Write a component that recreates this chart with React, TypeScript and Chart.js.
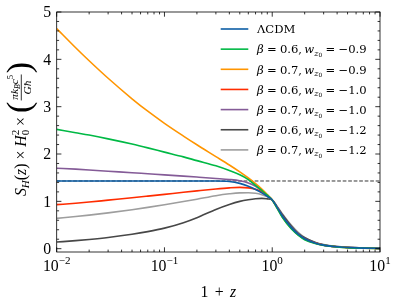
import React, { useEffect, useRef } from "react";
import Chart from "chart.js/auto";

// 1+z sample positions
const onePlusZ = [0.01, 0.015, 0.02, 0.03, 0.05, 0.07, 0.1, 0.15, 0.2, 0.3, 0.4, 0.5, 0.6, 0.7, 0.8, 0.9, 1.0, 1.1, 1.25, 1.5, 1.75, 2, 2.5, 3, 4, 5, 7, 10];

// S_H(z) * H0^2 * (pi kB c^5 / G hbar)
const lcdm = [1.43, 1.43, 1.43, 1.43, 1.43, 1.43, 1.43, 1.43, 1.43, 1.43, 1.42, 1.38, 1.32, 1.25, 1.18, 1.105, 1.03, 0.89, 0.68, 0.45, 0.30, 0.21, 0.12, 0.075, 0.04, 0.025, 0.012, 0.006];
const b06w09 = [2.52, 2.45, 2.40, 2.32, 2.21, 2.13, 2.04, 1.94, 1.86, 1.75, 1.65, 1.56, 1.46, 1.34, 1.23, 1.13, 1.03, 0.87, 0.65, 0.42, 0.28, 0.19, 0.11, 0.07, 0.037, 0.022, 0.011, 0.005];
const b07w09 = [4.65, 4.245, 3.97, 3.60, 3.167, 2.904, 2.648, 2.379, 2.195, 1.945, 1.767, 1.621, 1.493, 1.374, 1.261, 1.145, 1.03, 0.88, 0.66, 0.43, 0.29, 0.20, 0.115, 0.072, 0.038, 0.023, 0.011, 0.005];
const b06w10 = [0.93, 0.96, 0.985, 1.025, 1.075, 1.11, 1.148, 1.192, 1.222, 1.262, 1.285, 1.295, 1.285, 1.255, 1.205, 1.125, 1.03, 0.88, 0.67, 0.44, 0.29, 0.205, 0.118, 0.074, 0.039, 0.024, 0.012, 0.006];
const b07w10 = [1.70, 1.68, 1.663, 1.637, 1.605, 1.583, 1.56, 1.533, 1.513, 1.484, 1.462, 1.435, 1.39, 1.32, 1.225, 1.13, 1.03, 0.89, 0.68, 0.45, 0.30, 0.21, 0.12, 0.075, 0.04, 0.025, 0.012, 0.006];
const b06w12 = [0.14, 0.17, 0.195, 0.237, 0.304, 0.36, 0.434, 0.55, 0.655, 0.83, 0.935, 1.0, 1.035, 1.055, 1.062, 1.052, 1.03, 0.90, 0.71, 0.48, 0.32, 0.23, 0.13, 0.082, 0.043, 0.027, 0.013, 0.007];
const b07w12 = [0.64, 0.679, 0.709, 0.757, 0.824, 0.872, 0.928, 0.995, 1.045, 1.12, 1.16, 1.18, 1.182, 1.17, 1.14, 1.095, 1.03, 0.91, 0.73, 0.50, 0.34, 0.24, 0.135, 0.087, 0.046, 0.028, 0.014, 0.008];

const seriesValues = [lcdm, b06w09, b07w09, b06w10, b07w10, b06w12, b07w12];
const seriesColors = ["#0C5DA5", "#00B945", "#FF9500", "#FF2C00", "#845B97", "#474747", "#9e9e9e"];
const betaLabels = ["0.6", "0.7", "0.6", "0.7", "0.6", "0.7"];
const w0Labels = ["−0.9", "−0.9", "−1.0", "−1.0", "−1.2", "−1.2"];
const dashedLevel = 1.43;
const xTickExponents = [-2, -1, 0, 1];
const yTickValues = [0, 1, 2, 3, 4, 5];

const SERIF = '"Liberation Serif", "DejaVu Serif", "Times New Roman", serif';
const MATHSERIF = '"DejaVu Serif", "Liberation Serif", serif';

type Seg = { t?: string; it?: boolean; s?: number; dy?: number; g?: number; stack?: Seg[]; frac?: { num: Seg[]; den: Seg[] } };

let currentFamily = SERIF;

function fontOf(sg: Seg, base: number) {
  return `${sg.it ? "italic " : ""}${(base * (sg.s ?? 1)).toFixed(2)}px ${currentFamily}`;
}
function segW(ctx: CanvasRenderingContext2D, sg: Seg, base: number): number {
  if (sg.g !== undefined) return sg.g * base * (sg.s ?? 1);
  if (sg.stack) return Math.max(...sg.stack.map((c) => segW(ctx, c, base)));
  if (sg.frac) return Math.max(rowW(ctx, sg.frac.num, base), rowW(ctx, sg.frac.den, base)) + base * 0.25;
  ctx.font = fontOf(sg, base);
  return ctx.measureText(sg.t ?? "").width;
}
function rowW(ctx: CanvasRenderingContext2D, segs: Seg[], base: number): number {
  return segs.reduce((a, s) => a + segW(ctx, s, base), 0);
}
function drawSeg(ctx: CanvasRenderingContext2D, sg: Seg, x: number, y: number, base: number, w: number) {
  if (sg.g !== undefined) return;
  if (sg.stack) {
    for (const c of sg.stack) drawSeg(ctx, c, x, y, base, segW(ctx, c, base));
    return;
  }
  if (sg.frac) {
    const barY = y - 0.27 * base;
    ctx.fillRect(x + 0.08 * base, barY - 0.4, w - 0.16 * base, 0.8);
    const nw = rowW(ctx, sg.frac.num, base);
    const dw = rowW(ctx, sg.frac.den, base);
    drawRow(ctx, sg.frac.num, x + (w - nw) / 2, barY - 0.2 * base, base);
    drawRow(ctx, sg.frac.den, x + (w - dw) / 2, barY + 0.62 * base, base);
    return;
  }
  ctx.font = fontOf(sg, base);
  ctx.fillText(sg.t ?? "", x, y + (sg.dy ?? 0) * base);
}
function drawRow(ctx: CanvasRenderingContext2D, segs: Seg[], x: number, y: number, base: number) {
  let cx = x;
  for (const sg of segs) {
    const w = segW(ctx, sg, base);
    drawSeg(ctx, sg, cx, y, base, w);
    cx += w;
  }
  return cx;
}
function drawRowCentered(ctx: CanvasRenderingContext2D, segs: Seg[], cx: number, y: number, base: number) {
  const w = rowW(ctx, segs, base);
  drawRow(ctx, segs, cx - w / 2, y, base);
}

const yLabelSegs: Seg[] = [
  { t: "S", it: true },
  { t: "H", it: true, s: 0.7, dy: 0.22 },
  { t: "(" },
  { t: "z", it: true },
  { t: ")" },
  { t: " × " },
  { t: "H", it: true },
  { stack: [{ t: "0", s: 0.7, dy: 0.22 }, { t: "2", s: 0.7, dy: -0.42 }] },
  { t: " × " },
  { t: "(", s: 2.15, dy: 0.26 },
  {
    frac: {
      num: [
        { t: "π", it: true, s: 0.72 },
        { t: "k", it: true, s: 0.72 },
        { t: "B", it: true, s: 0.5, dy: 0.12 },
        { t: "c", it: true, s: 0.72 },
        { t: "5", s: 0.5, dy: -0.3 },
      ],
      den: [
        { t: "G", it: true, s: 0.72 },
        { t: "ħ", it: true, s: 0.72 },
      ],
    },
  },
  { t: ")", s: 2.15, dy: 0.26 },
];

const axesPlugin = {
  id: "sciAxes",
  afterDraw(chart: any) {
    const { ctx, chartArea: a, scales } = chart;
    const xs = scales.x;
    const ys = scales.y;
    ctx.save();
    ctx.strokeStyle = "#000";
    ctx.fillStyle = "#000";
    ctx.lineWidth = 0.8;
    ctx.strokeRect(a.left, a.top, a.right - a.left, a.bottom - a.top);
    const tick = (x1: number, y1: number, x2: number, y2: number) => {
      ctx.beginPath();
      ctx.moveTo(x1, y1);
      ctx.lineTo(x2, y2);
      ctx.stroke();
    };
    const MAJ = 4.7;
    const MIN = 2.4;
    for (const e of xTickExponents) {
      const px = xs.getPixelForValue(Math.pow(10, e));
      tick(px, a.bottom, px, a.bottom - MAJ);
      tick(px, a.top, px, a.top + MAJ);
      if (e < xTickExponents[xTickExponents.length - 1]) {
        for (let m = 2; m <= 9; m++) {
          const mx = xs.getPixelForValue(m * Math.pow(10, e));
          tick(mx, a.bottom, mx, a.bottom - MIN);
          tick(mx, a.top, mx, a.top + MIN);
        }
      }
    }
    for (const v of yTickValues) {
      const py = ys.getPixelForValue(v);
      tick(a.left, py, a.left + MAJ, py);
      tick(a.right, py, a.right - MAJ, py);
      if (v < 5) {
        for (let k = 1; k <= 4; k++) {
          const my = ys.getPixelForValue(v + k * 0.2);
          tick(a.left, my, a.left + MIN, my);
          tick(a.right, my, a.right - MIN, my);
        }
      }
    }
    const base = 15.8;
    ctx.textBaseline = "alphabetic";
    ctx.textAlign = "left";
    currentFamily = SERIF;
    for (const v of yTickValues) {
      const py = ys.getPixelForValue(v);
      ctx.font = `${base}px ${SERIF}`;
      const w = ctx.measureText(String(v)).width;
      ctx.fillText(String(v), a.left - 5.5 - w, py + 5.3);
    }
    for (const e of xTickExponents) {
      const px = xs.getPixelForValue(Math.pow(10, e));
      const segs: Seg[] = [{ t: "10" }, { t: e < 0 ? "−" + Math.abs(e) : String(e), s: 0.7, dy: -0.42 }];
      drawRowCentered(ctx, segs, px, 270.5, base);
    }
    drawRowCentered(ctx, [{ t: "1" }, { g: 0.4 }, { t: "+" }, { g: 0.4 }, { t: "z", it: true }], (a.left + a.right) / 2, 297, base);
    ctx.save();
    ctx.translate(25.5, 129);
    ctx.rotate(-Math.PI / 2);
    drawRowCentered(ctx, yLabelSegs, 0, 0, base);
    ctx.restore();
    // legend
    currentFamily = MATHSERIF;
    const lb = 11.6;
    for (let i = 0; i < seriesValues.length; i++) {
      const ry = 29 + i * 20.15;
      ctx.strokeStyle = seriesColors[i];
      ctx.lineWidth = 1.6;
      tick(220.7, ry, 248.3, ry);
      ctx.fillStyle = "#000";
      let segs: Seg[];
      if (i === 0) segs = [{ t: "Λ" }, { t: "CDM" }];
      else
        segs = [
          { t: "β", it: true },
          { g: 0.28 },
          { t: "=" },
          { g: 0.28 },
          { t: betaLabels[i - 1] + "," },
          { g: 0.2 },
          { t: "w", it: true },
          { t: "z", it: true, s: 0.7, dy: 0.18 },
          { t: "0", s: 0.5, dy: 0.32 },
          { g: 0.28 },
          { t: "=" },
          { g: 0.28 },
          { t: w0Labels[i - 1] },
        ];
      drawRow(ctx, segs, 257, ry + 4.3, lb);
    }
    currentFamily = SERIF;
    ctx.restore();
  },
};

const seriesNames = ["ΛCDM", ...betaLabels.map((b, i) => `β = ${b}, w_z0 = ${w0Labels[i]}`)];

export default function App() {
  const ref = useRef<HTMLCanvasElement | null>(null);
  useEffect(() => {
    if (!ref.current) return;
    const datasets: any[] = seriesValues.map((vals, i) => ({
      label: seriesNames[i],
      data: onePlusZ.map((x, j) => ({ x, y: vals[j] })),
      borderColor: seriesColors[i],
      backgroundColor: seriesColors[i],
      borderWidth: 1.6,
      pointRadius: 0,
      cubicInterpolationMode: "monotone",
      fill: false,
    }));
    datasets.push({
      label: "dashed",
      data: [
        { x: onePlusZ[0], y: dashedLevel },
        { x: onePlusZ[onePlusZ.length - 1], y: dashedLevel },
      ],
      borderColor: "#000",
      borderWidth: 0.8,
      borderDash: [3.7, 1.8],
      pointRadius: 0,
      fill: false,
    });
    const chart = new Chart(ref.current, {
      type: "line",
      data: { datasets },
      options: {
        animation: false,
        responsive: false,
        devicePixelRatio: 1,
        layout: { padding: { left: 56.7, right: 18, top: 12, bottom: 50 } },
        plugins: { legend: { display: false }, tooltip: { enabled: false } },
        scales: {
          x: { type: "logarithmic", min: 0.01, max: 10, display: false },
          y: { type: "linear", min: -0.07, max: 5, display: false },
        },
      },
      plugins: [axesPlugin],
    } as any);
    return () => chart.destroy();
  }, []);
  return (
    <div style={{ position: "absolute", left: 0, top: 0, width: 398, height: 302, background: "#fff" }}>
      <canvas ref={ref} width={398} height={302} style={{ width: 398, height: 302, display: "block" }} />
    </div>
  );
}
